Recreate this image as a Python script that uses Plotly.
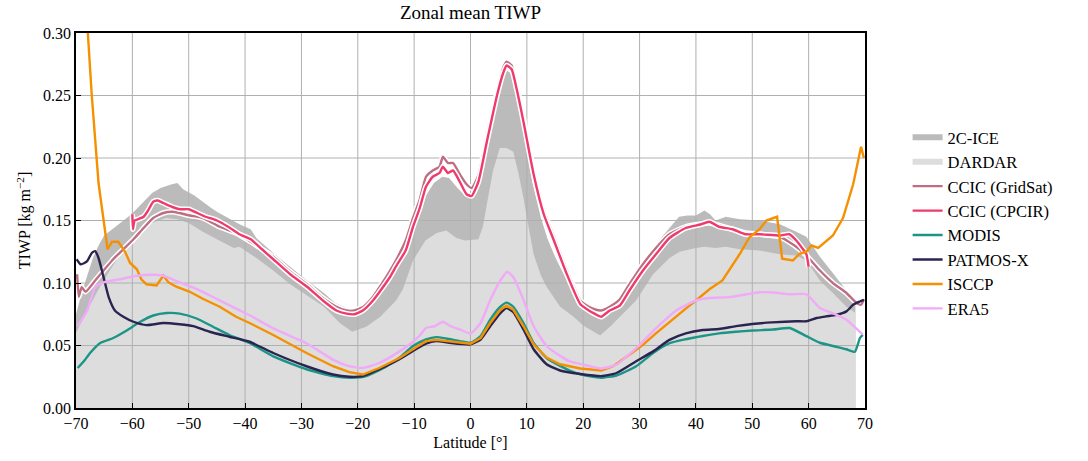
import plotly.graph_objects as go

# ---------------- data ----------------
lat_2cice = [-70, -69, -68, -67, -66, -65, -63, -61, -59.5, -58, -56.5, -55, -53, -52, -51, -49, -47.5,
             -46, -45, -43, -41, -39, -38, -35, -32, -29, -26, -24, -22, -20.5, -19, -17.5, -16, -14.5,
             -13, -11.5, -10.2, -9, -7.9, -6.5, -5, -3.8, -2.3, -1, 0.5, 1.5, 2.5, 3.5, 4.5, 5.5, 6.5,
             7.3, 8.2, 9, 10, 11, 12.5, 13.7, 15, 16.1, 17.6, 18.5, 20, 21.5, 23, 24.5, 26.5, 28, 29.5,
             31, 32.5, 34, 35.5, 37, 38.5, 40, 41.5, 42.5, 43.5, 45.3, 47.8, 51.3, 54.9, 57.8, 59.6, 62,
             64.3, 66.7, 68.3]
tiwp_2cice = [0.075, 0.092, 0.106, 0.120, 0.130, 0.138, 0.145, 0.152, 0.158, 0.165, 0.172, 0.176, 0.179,
              0.180, 0.175, 0.170, 0.165, 0.160, 0.157, 0.152, 0.147, 0.143, 0.136, 0.124, 0.113, 0.102,
              0.092, 0.084, 0.080, 0.079, 0.082, 0.088, 0.095, 0.103, 0.112, 0.125, 0.140, 0.155, 0.170,
              0.180, 0.185, 0.184, 0.176, 0.170, 0.171, 0.185, 0.205, 0.228, 0.248, 0.262, 0.270, 0.267,
              0.250, 0.232, 0.207, 0.180, 0.152, 0.135, 0.121, 0.111, 0.098, 0.091, 0.080, 0.074, 0.071,
              0.075, 0.088, 0.098, 0.110, 0.120, 0.128, 0.137, 0.145, 0.153, 0.154, 0.154, 0.158, 0.155,
              0.150, 0.153, 0.151, 0.150, 0.147, 0.141, 0.137, 0.121, 0.108, 0.094, 0.087]

lat_dardar = [-70, -68, -66, -64, -62, -60, -58, -56, -54, -52, -50, -47.5, -45, -42, -41, -38, -35, -32,
              -29, -26, -23.2, -21, -18.5, -16, -13.2, -12, -10.2, -8, -6, -4.3, -2.5, -1, 1.4, 2.2, 2.9,
              4, 5.2, 6.4, 7.6, 8.5, 9.4, 10.3, 11.2, 12.5, 13.5, 15.9, 18.3, 20, 23, 25, 26.5, 29.4,
              32.4, 35.3, 37.1, 40, 41.5, 43.5, 45.3, 47.8, 51.3, 54.9, 57.8, 59.6, 62, 64.3, 66.7, 68.3]
tiwp_dardar = [0.060, 0.078, 0.095, 0.110, 0.124, 0.137, 0.145, 0.149, 0.152, 0.151, 0.148, 0.141, 0.135,
               0.128, 0.129, 0.120, 0.110, 0.099, 0.090, 0.081, 0.068, 0.061, 0.065, 0.073, 0.086, 0.095,
               0.118, 0.134, 0.140, 0.142, 0.136, 0.134, 0.135, 0.145, 0.163, 0.190, 0.208, 0.208, 0.205,
               0.188, 0.168, 0.145, 0.123, 0.106, 0.097, 0.081, 0.073, 0.066, 0.058, 0.066, 0.073, 0.086,
               0.107, 0.120, 0.125, 0.128, 0.129, 0.128, 0.129, 0.127, 0.126, 0.123, 0.122, 0.118, 0.102,
               0.092, 0.081, 0.076]

lat_gridsat = [-69.8, -69.5, -69, -68.3, -66.6, -65.1, -63.4, -61.6, -59.8, -58, -56.3, -54.5, -52.8, -49.8,
               -47.5, -44.5, -41.6, -39, -37, -35, -32, -29, -26.2, -23.8, -22, -20.6, -19, -17.3, -15.8,
               -14.4, -13, -11.5, -10.2, -9, -7.9, -6.7, -5.5, -4.9, -4, -3.1, -1.9, -0.7, 0.2, 1.4, 2.9,
               4.7, 5.8, 6.4, 7.3, 8.2, 9.4, 11.2, 13, 14.8, 17.1, 19.5, 21, 22, 23.2, 24.7, 26.5, 28.2,
               30.6, 32.9, 35.3, 38.2, 40.6, 42.4, 44.1, 46.5, 48.8, 51.3, 54.9, 57.8, 59.6, 62, 64.3, 66.7,
               68.5, 69.3, 69.8]
tiwp_gridsat = [0.107, 0.089, 0.0966, 0.093, 0.102, 0.110, 0.119, 0.127, 0.135, 0.144, 0.152, 0.156, 0.157,
                0.154, 0.152, 0.145, 0.140, 0.133, 0.127, 0.121, 0.109, 0.099, 0.088, 0.081, 0.078, 0.078,
                0.081, 0.089, 0.099, 0.109, 0.120, 0.134, 0.152, 0.167, 0.185, 0.190, 0.193, 0.201, 0.196,
                0.196, 0.187, 0.179, 0.176, 0.186, 0.217, 0.253, 0.272, 0.277, 0.274, 0.258, 0.232, 0.190,
                0.158, 0.137, 0.110, 0.086, 0.081, 0.079, 0.078, 0.081, 0.087, 0.099, 0.115, 0.128, 0.139,
                0.145, 0.147, 0.148, 0.146, 0.143, 0.140, 0.139, 0.137, 0.129, 0.122, 0.110, 0.100, 0.092,
                0.084, 0.0826, 0.087]

lat_cpcir = [-60, -59.9, -59.6, -59, -58, -57.2, -56.3, -55.5, -54.5, -53, -51.5, -50, -48.5, -47, -45,
             -43, -41, -39, -37, -35, -32, -29, -26.2, -23.8, -22, -20.6, -19.1, -17.3, -15.8, -14.4,
             -13, -11.5, -10.2, -9, -7.9, -6.7, -5.5, -4.9, -4, -3.1, -1.9, -0.7, 0.2, 1.4, 2.9, 4.7,
             5.8, 6.4, 7.3, 8.2, 9.4, 11.2, 13, 14.8, 17.1, 19.5, 21, 22, 23.2, 24.7, 26.5, 28.2, 30.6,
             32.9, 35.3, 38.2, 40.6, 42.4, 44.1, 46.5, 48.8, 51.3, 54.9, 56.6, 57.8, 59, 59.6, 60]
tiwp_cpcir = [0.155, 0.143, 0.150, 0.151, 0.153, 0.158, 0.165, 0.166, 0.164, 0.161, 0.159, 0.159, 0.156,
              0.153, 0.150, 0.145, 0.139, 0.135, 0.127, 0.119, 0.107, 0.097, 0.086, 0.078, 0.0755, 0.075,
              0.078, 0.086, 0.095, 0.104, 0.115, 0.126, 0.145, 0.160, 0.177, 0.185, 0.188, 0.193, 0.188,
              0.190, 0.181, 0.171, 0.1696, 0.181, 0.213, 0.250, 0.268, 0.274, 0.271, 0.255, 0.229, 0.187,
              0.155, 0.134, 0.107, 0.083, 0.078, 0.0755, 0.073, 0.078, 0.082, 0.094, 0.110, 0.123, 0.136,
              0.144, 0.1466, 0.149, 0.145, 0.143, 0.139, 0.139, 0.138, 0.139, 0.134, 0.127, 0.123, 0.113]

lat_modis = [-69.7, -68.5, -67.5, -65.7, -63.4, -61, -58.6, -56.3, -53.9, -51.6, -48.6, -45.7, -42.8, -39.2,
             -35, -29.1, -24.4, -21, -18.5, -15, -12.6, -10.2, -7.9, -6.1, -4.3, -1.9, 0, 1.8, 3.5, 5.3,
             6.4, 7.6, 9.4, 11.2, 13.5, 15.9, 17.6, 19.5, 21, 23.2, 25.9, 29.4, 32.4, 35.3, 38.2, 41.2,
             44.1, 47.1, 50, 53.7, 56.6, 59.6, 62, 64.9, 66.7, 68.2, 69.1, 69.6]
tiwp_modis = [0.032, 0.038, 0.044, 0.052, 0.056, 0.062, 0.069, 0.074, 0.076, 0.0755, 0.0716, 0.065, 0.0584,
              0.052, 0.0413, 0.031, 0.0255, 0.0242, 0.0255, 0.033, 0.0403, 0.0496, 0.0548, 0.0567, 0.0556,
              0.0535, 0.0522, 0.0575, 0.0707, 0.081, 0.0843, 0.081, 0.068, 0.052, 0.040, 0.0337, 0.030,
              0.027, 0.0255, 0.0242, 0.026, 0.0334, 0.044, 0.0518, 0.055, 0.0576, 0.0597, 0.061, 0.062,
              0.0628, 0.064, 0.0575, 0.0522, 0.049, 0.047, 0.045, 0.056, 0.0585]

lat_patmos = [-69.9, -69.2, -68.5, -68, -67.2, -66.6, -66, -65.1, -64.2, -63.1, -61.6, -59.8, -57.5, -54.5,
              -51.6, -49.2, -46.3, -42.8, -39.2, -35, -29.1, -24.4, -21.5, -19.1, -16.2, -12.6, -10.2,
              -7.9, -6.1, -3.8, 0, 1.8, 3.5, 5.3, 6.4, 7.6, 9.4, 11.2, 13.5, 15.9, 19.5, 23.2, 25.9, 29.4,
              32.4, 35.3, 38.2, 41.2, 44.1, 47.1, 50, 53.5, 57.8, 59.6, 61.4, 63.1, 64.9, 66.7, 67.9, 69.1,
              69.8]
tiwp_patmos = [0.119, 0.115, 0.116, 0.1176, 0.124, 0.1255, 0.120, 0.1045, 0.0887, 0.078, 0.073, 0.069,
               0.0663, 0.068, 0.067, 0.0655, 0.061, 0.057, 0.053, 0.044, 0.0334, 0.0268, 0.025, 0.0255,
               0.031, 0.039, 0.0456, 0.0514, 0.0535, 0.0522, 0.0509, 0.0548, 0.0654, 0.0759, 0.0799,
               0.0767, 0.0628, 0.047, 0.035, 0.030, 0.0272, 0.0255, 0.028, 0.0374, 0.0453, 0.0545, 0.0597,
               0.0624, 0.0632, 0.0655, 0.0672, 0.0685, 0.0694, 0.0694, 0.072, 0.0733, 0.0745, 0.0773,
               0.0826, 0.0852, 0.0865]

lat_isccp = [-68.6, -67.9, -67.2, -66.4, -66, -65.4, -64.8, -64.4, -63.6, -62.5, -61.3, -60.4, -59.2, -58.4,
             -57.5, -55.7, -55.1, -54.5, -53.6, -52.2, -49.8, -47.5, -44.5, -41.6, -39.2, -35, -29.1,
             -24.4, -21.5, -19.1, -16.2, -12.6, -10.2, -7.9, -6.1, 0, 1.8, 3.5, 5.3, 6.4, 7.6, 9.4, 11.2,
             13.5, 15.9, 19.5, 23.2, 25.3, 28.2, 30.6, 32.9, 35.3, 38.2, 40, 42.4, 44.7, 47.1, 47.8, 49.5,
             51.3, 52.5, 54.4, 55.3, 57.2, 58.4, 59.6, 60.5, 61.7, 64.3, 66.1, 67.9, 69.3, 69.8]
tiwp_isccp = [0.34, 0.300, 0.250, 0.200, 0.180, 0.160, 0.139, 0.127, 0.133, 0.133, 0.125, 0.116, 0.111,
              0.103, 0.099, 0.098, 0.102, 0.106, 0.1005, 0.097, 0.093, 0.0874, 0.081, 0.073, 0.068, 0.0584,
              0.044, 0.0334, 0.0287, 0.0268, 0.032, 0.040, 0.047, 0.0535, 0.0545, 0.0514, 0.056, 0.068,
              0.0786, 0.0818, 0.0786, 0.0654, 0.0509, 0.0403, 0.035, 0.0316, 0.030, 0.0334, 0.0426, 0.0505,
              0.0597, 0.069, 0.0795, 0.086, 0.095, 0.102, 0.118, 0.1234, 0.1366, 0.143, 0.150, 0.153,
              0.1195, 0.118, 0.1234, 0.125, 0.130, 0.128, 0.138, 0.152, 0.179, 0.209, 0.200]

lat_era5 = [-69.7, -68, -66.6, -65.1, -62.2, -59.2, -56.3, -54.5, -51.6, -48.6, -45.1, -41.6, -39.2, -35,
            -29.1, -24.4, -21.5, -19.1, -16.2, -12.6, -10.2, -9, -7.9, -6.4, -4.9, -3.8, -1.9, 0, 1.8, 3.5,
            5.3, 6.5, 7.6, 9.4, 11.2, 13.5, 15.9, 17.6, 20, 23.2, 25.9, 29.4, 32.9, 36.5, 40, 42.4, 45.9,
            49.4, 51.3, 53.7, 56.6, 59.6, 62, 64.9, 66.7, 69.6]
tiwp_era5 = [0.0655, 0.078, 0.0966, 0.1005, 0.103, 0.1058, 0.1066, 0.1058, 0.1005, 0.0953, 0.0874, 0.0795,
             0.0742, 0.0637, 0.0518, 0.0387, 0.0334, 0.032, 0.036, 0.0453, 0.053, 0.058, 0.064, 0.0654,
             0.069, 0.066, 0.0628, 0.0596, 0.068, 0.0864, 0.102, 0.109, 0.1048, 0.0864, 0.0654, 0.0496,
             0.0417, 0.0374, 0.0347, 0.0316, 0.0347, 0.0479, 0.0637, 0.078, 0.086, 0.088, 0.0887, 0.0913,
             0.0926, 0.0924, 0.091, 0.091, 0.080, 0.0746, 0.0707, 0.0588]

x_ticks = [-70, -60, -50, -40, -30, -20, -10, 0, 10, 20, 30, 40, 50, 60, 70]
y_ticks = [0.0, 0.05, 0.10, 0.15, 0.20, 0.25, 0.30]
x_range = [-70, 70]
y_range = [0, 0.3]

FONT = "Liberation Serif"

fig = go.Figure()

# filled reference products
fig.add_trace(go.Scatter(x=lat_2cice, y=tiwp_2cice, mode="none", fill="tozeroy",
                         fillcolor="#bbbbbb", name="2C-ICE", hoverinfo="skip"))
fig.add_trace(go.Scatter(x=lat_dardar, y=tiwp_dardar, mode="none", fill="tozeroy",
                         fillcolor="#dddddd", name="DARDAR", hoverinfo="skip"))

# grid lines drawn above the fills but below the lines (matplotlib style)
gx, gy = [], []
for t in x_ticks[1:-1]:
    gx += [t, t, None]
    gy += [y_range[0], y_range[1], None]
for t in y_ticks[1:-1]:
    gx += [x_range[0], x_range[1], None]
    gy += [t, t, None]
fig.add_trace(go.Scatter(x=gx, y=gy, mode="lines", line=dict(color="#b0b0b0", width=1),
                         showlegend=False, hoverinfo="skip"))

def add_line(lat, val, name, color, halo=False, shape="spline"):
    if halo:
        fig.add_trace(go.Scatter(x=lat, y=val, mode="lines",
                                 line=dict(color="white", width=5.5, shape=shape, smoothing=0.5),
                                 showlegend=False, hoverinfo="skip"))
    fig.add_trace(go.Scatter(x=lat, y=val, mode="lines", name=name,
                             line=dict(color=color, width=2.4, shape=shape, smoothing=0.5)))

add_line(lat_gridsat, tiwp_gridsat, "CCIC (GridSat)", "#be6e82", halo=True)
add_line(lat_cpcir, tiwp_cpcir, "CCIC (CPCIR)", "#ee3a6d", halo=True)
add_line(lat_modis, tiwp_modis, "MODIS", "#1c9587")
add_line(lat_patmos, tiwp_patmos, "PATMOS-X", "#2a2550")
add_line(lat_isccp, tiwp_isccp, "ISCCP", "#f59100", shape="linear")
add_line(lat_era5, tiwp_era5, "ERA5", "#f0aaf8")

fig.update_layout(
    width=1088, height=461,
    margin=dict(l=76, r=223, t=33, b=48),
    paper_bgcolor="white", plot_bgcolor="white",
    font=dict(family=FONT, size=16, color="black"),
    title=dict(text="Zonal mean TIWP", x=0.5, xref="paper", xanchor="center",
               y=1 - 12 / 461, yref="container", yanchor="middle",
               font=dict(family=FONT, size=19, color="black")),
    showlegend=True,
    legend=dict(x=1.054, y=0.768, xanchor="left", yanchor="top",
                font=dict(family=FONT, size=16.5, color="black"),
                bgcolor="rgba(0,0,0,0)", traceorder="normal"),
)

fig.update_xaxes(range=x_range, tickvals=x_ticks, ticks="inside", ticklen=5, tickwidth=1.2,
                 tickcolor="black", showline=True, linecolor="black", linewidth=1.6, mirror=True,
                 showgrid=False, zeroline=False,
                 title=dict(text="Latitude [°]", standoff=6, font=dict(family=FONT, size=16)),
                 tickfont=dict(family=FONT, size=16))
fig.update_yaxes(range=y_range, tickvals=y_ticks, tickformat=".2f", ticks="inside", ticklen=5,
                 tickwidth=1.2, tickcolor="black", showline=True, linecolor="black", linewidth=1.6,
                 mirror=True, showgrid=False, zeroline=False,
                 title=dict(text="TIWP [kg m<sup>−2</sup>]", standoff=8, font=dict(family=FONT, size=16)),
                 tickfont=dict(family=FONT, size=16))

fig.write_html("out.html")
